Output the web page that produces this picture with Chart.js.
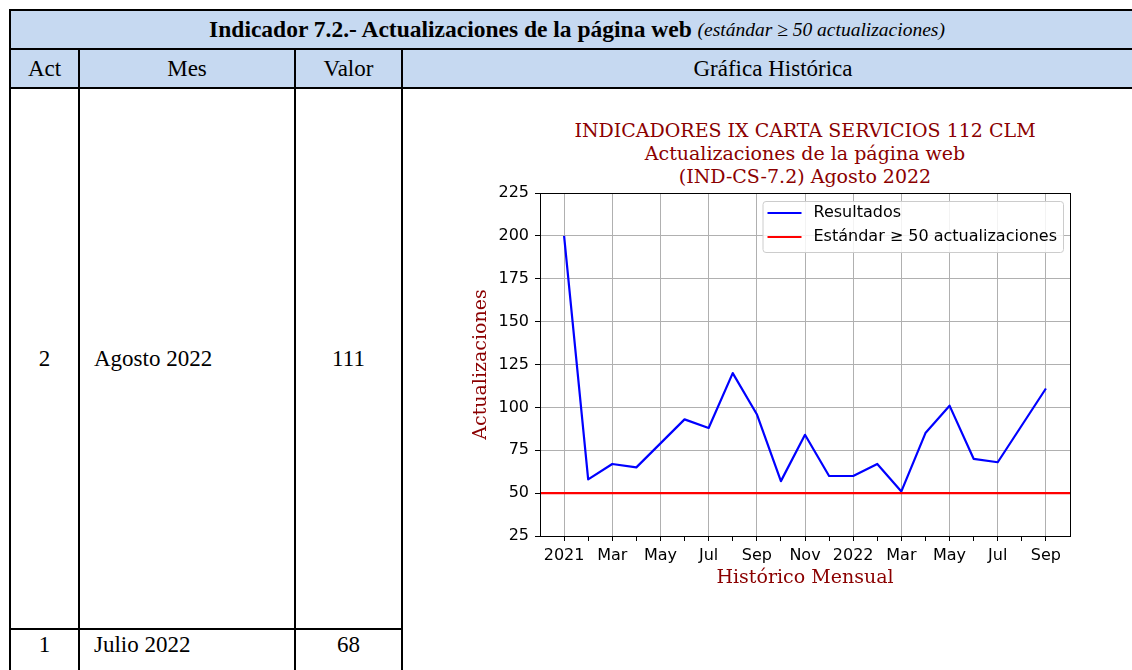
<!DOCTYPE html>
<html><head><meta charset="utf-8">
<script src="https://cdn.jsdelivr.net/npm/chart.js@4.4.0/dist/chart.umd.min.js"></script>
<style>
html,body{margin:0;padding:0;background:#fff;width:1132px;height:670px;overflow:hidden;position:relative;}
.bg{position:absolute;background:#c6d9f1;}
.hl{position:absolute;background:#000;height:2px;}
.vl{position:absolute;background:#000;width:2px;}
.cell{position:absolute;display:flex;align-items:center;justify-content:center;font-family:"Liberation Serif",serif;font-size:23px;color:#000;white-space:nowrap;line-height:1;}
.left{justify-content:flex-start;}
.ctitle{position:absolute;font-family:"DejaVu Serif",serif;font-size:19px;color:#8b0000;text-align:center;line-height:23px;white-space:nowrap;}
#cv{position:absolute;left:403px;top:89px;}
</style></head>
<body>
<div class="bg" style="left:9px;top:9px;width:1134px;height:80px"></div>
<!-- horizontal lines -->
<div class="hl" style="left:9px;top:9px;width:1134px"></div>
<div class="hl" style="left:9px;top:48px;width:1134px"></div>
<div class="hl" style="left:9px;top:87px;width:1134px"></div>
<div class="hl" style="left:9px;top:628px;width:394px"></div>
<!-- vertical lines -->
<div class="vl" style="left:9px;top:9px;height:661px"></div>
<div class="vl" style="left:78px;top:48px;height:622px"></div>
<div class="vl" style="left:294px;top:48px;height:622px"></div>
<div class="vl" style="left:401px;top:48px;height:622px"></div>

<div class="cell" style="left:11px;top:11px;width:1132px;height:37px;"><span style="font-weight:bold;font-size:23.5px">Indicador 7.2.- Actualizaciones de la página web</span>&nbsp;<span style="font-style:italic;font-size:19.5px">(estándar ≥ 50 actualizaciones)</span></div>
<div class="cell" style="left:11px;top:50px;width:67px;height:37px;">Act</div>
<div class="cell" style="left:80px;top:50px;width:214px;height:37px;">Mes</div>
<div class="cell" style="left:296px;top:50px;width:105px;height:37px;">Valor</div>
<div class="cell" style="left:403px;top:50px;width:740px;height:37px;">Gráfica Histórica</div>

<div class="cell" style="left:11px;top:89px;width:67px;height:539px;">2</div>
<div class="cell left" style="left:94px;top:89px;width:200px;height:539px;">Agosto 2022</div>
<div class="cell" style="left:296px;top:89px;width:105px;height:539px;">111</div>

<div class="cell" style="left:11px;top:630px;width:67px;height:28px;">1</div>
<div class="cell left" style="left:94px;top:630px;width:200px;height:28px;">Julio 2022</div>
<div class="cell" style="left:296px;top:630px;width:105px;height:28px;">68</div>

<div class="ctitle" style="left:505px;top:119px;width:600px;">INDICADORES IX CARTA SERVICIOS 112 CLM<br>Actualizaciones de la página web<br>(IND-CS-7.2) Agosto 2022</div>

<canvas id="cv" width="729" height="539"></canvas>
<script>
// ---- data ----
const months = ['2021-01','2021-02','2021-03','2021-04','2021-05','2021-06','2021-07','2021-08','2021-09','2021-10','2021-11','2021-12',
                '2022-01','2022-02','2022-03','2022-04','2022-05','2022-06','2022-07','2022-08','2022-09'];
const resultados = [200,58,67,65,null,93,88,120,96,57,84,60,60,67,51,85,101,70,68,null,111];
const estandar = 50;
const xTickLabels = ['2021','','Mar','','May','','Jul','','Sep','','Nov','','2022','','Mar','','May','','Jul','','Sep'];
const yTicks = [25,50,75,100,125,150,175,200,225];
const seriesLabels = ['Resultados','Estándar ≥ 50 actualizaciones'];

const xMin = -1, xMax = months.length;
const TRANSP = 'rgba(0,0,0,0)';

const framePlugin = {
  id:'frame',
  afterDatasetsDraw(chart){
    const {ctx, chartArea:a} = chart;
    ctx.save();
    ctx.strokeStyle = '#000'; ctx.lineWidth = 1;
    ctx.strokeRect(Math.round(a.left)+0.5, Math.round(a.top)+0.5, Math.round(a.right-a.left), Math.round(a.bottom-a.top));
    // legend
    ctx.font = '16px "DejaVu Sans"';
    const items = chart.data.datasets.map(d=>({text:d.label,color:d.borderColor}));
    const tw = Math.max(...items.map(i=>ctx.measureText(i.text).width));
    const padX=5, lineLen=34, gap=12, padR=6;
    const w = padX+lineLen+gap+tw+padR, h = 51;
    const x = a.right-7-w, y = a.top+8;
    ctx.beginPath();
    if (ctx.roundRect) ctx.roundRect(x+0.5,y+0.5,w,h,3); else ctx.rect(x+0.5,y+0.5,w,h);
    ctx.fillStyle='rgba(255,255,255,0.85)'; ctx.fill();
    ctx.strokeStyle='#cccccc'; ctx.lineWidth=1; ctx.stroke();
    items.forEach((it,k)=>{
      const cy = y+12+k*24;
      ctx.beginPath(); ctx.strokeStyle=it.color; ctx.lineWidth=2.2;
      ctx.moveTo(x+padX,cy); ctx.lineTo(x+padX+lineLen,cy); ctx.stroke();
      ctx.fillStyle='#000'; ctx.textBaseline='middle'; ctx.textAlign='left';
      ctx.fillText(it.text, x+padX+lineLen+gap, cy);
    });
    ctx.restore();
  }
};

new Chart(document.getElementById('cv'), {
  type:'line',
  data:{
    datasets:[
      {label:seriesLabels[0], data: months.map((m,i)=>({x:i,y:resultados[i]})), borderColor:'#0000ff', backgroundColor:'#0000ff',
       borderWidth:2.2, pointRadius:0, spanGaps:true, tension:0, borderJoinStyle:'round', order:2},
      {label:seriesLabels[1], data:[{x:xMin,y:estandar},{x:xMax,y:estandar}], borderColor:'#ff0000', backgroundColor:'#ff0000',
       borderWidth:2.2, pointRadius:0, tension:0, order:1}
    ]
  },
  options:{
    responsive:false, animation:false, devicePixelRatio:1,
    layout:{padding:{left:67,right:62,top:104,bottom:39}},
    plugins:{legend:{display:false}, title:{display:false}, tooltip:{enabled:false}},
    scales:{
      x:{type:'linear', min:xMin, max:xMax,
        afterFit(s){ s.height = 53; },
        ticks:{stepSize:1, autoSkip:false, maxRotation:0, minRotation:0, padding:5, color:'#000',
          font:{family:'DejaVu Sans', size:16},
          callback:(v)=>{ const i=Math.round(v); return (i>=0 && i<xTickLabels.length) ? xTickLabels[i] : ''; }},
        grid:{lineWidth:1, tickLength:5,
          color:(c)=>{ const v=c.tick?Math.round(c.tick.value):-9; return (v>=0 && v<months.length && xTickLabels[v]!=='') ? '#b0b0b0' : TRANSP; },
          tickColor:(c)=>{ const v=c.tick?Math.round(c.tick.value):-9; return (v>=0 && v<months.length) ? '#000' : TRANSP; }},
        border:{display:true, color:'#000', width:1},
        title:{display:true, text:'Histórico Mensual', color:'#8b0000', font:{family:'DejaVu Serif', size:19}, padding:{top:0,bottom:0}}
      },
      y:{type:'linear', min:yTicks[0], max:yTicks[yTicks.length-1],
        afterFit(s){ s.width = 70; },
        afterBuildTicks(s){ s.ticks = yTicks.map(v=>({value:v})); },
        ticks:{stepSize:25, padding:6, color:'#000', font:{family:'DejaVu Sans', size:16}},
        grid:{lineWidth:1, tickLength:5, color:'#b0b0b0', tickColor:'#000'},
        border:{display:true, color:'#000', width:1},
        title:{display:true, text:'Actualizaciones', color:'#8b0000', font:{family:'DejaVu Serif', size:19}, padding:{top:0,bottom:0}}
      }
    }
  },
  plugins:[framePlugin]
});
</script>
</body></html>
